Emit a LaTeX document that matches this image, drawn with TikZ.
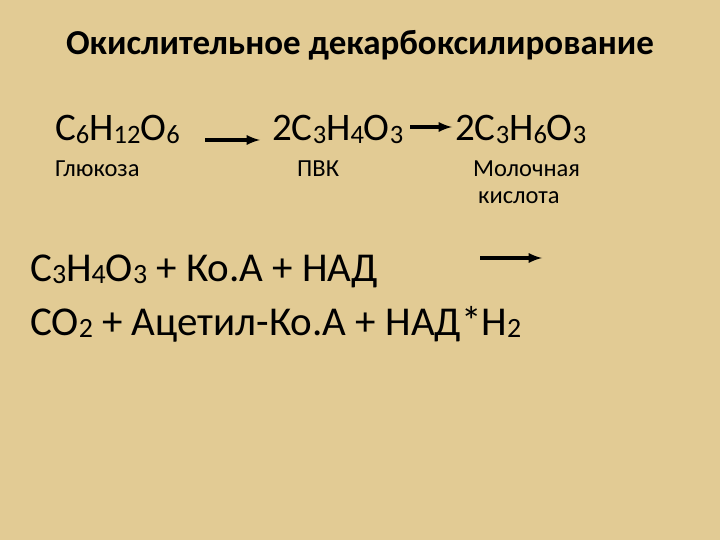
\documentclass[tikz,border=0pt]{standalone}
\usepackage{fontspec}
\setmainfont{Carlito}
\newcommand\subn[1]{\raisebox{-0.12ex}{\scalebox{0.68}{#1}}}
\begin{document}
\begin{tikzpicture}[x=1pt,y=-1pt,
  txt/.style={anchor=base west,inner sep=0pt,text=black},
  big/.style={txt,font=\fontsize{39}{44}\selectfont},
  med/.style={txt,font=\fontsize{24.5}{28}\selectfont},
  arr/.style={-latex,line width=3.5pt}]
\definecolor{bg}{RGB}{226,203,148}
\fill[bg] (0,0) rectangle (720,540);
\useasboundingbox (0,0) rectangle (720,540);
\node[anchor=base,inner sep=0pt,font=\bfseries\fontsize{35}{40}\selectfont] (t) at (360,55) {Окислительное декарбоксилирование};
\node[big] (a) at (55,141) {C\subn{6}H\subn{12}O\subn{6}};
\node[big] (b) at (272,141) {2C\subn{3}H\subn{4}O\subn{3}};
\node[big] (c) at (455,141) {2C\subn{3}H\subn{6}O\subn{3}};
\coordinate (a1) at (205,140); \coordinate (a2) at (260,140);
\draw[arr] (a1) -- (a2);
\coordinate (b1) at (410,127); \coordinate (b2) at (452,127);
\draw[arr] (b1) -- (b2);
\node[med] (g) at (55,177) {Глюкоза};
\node[med] (p) at (297,177) {ПВК};
\node[med] (m) at (473,177) {Молочная};
\node[med] (k) at (478,204) {кислота};
\node[big,font=\fontsize{41}{46}\selectfont] (r1) at (30,281) {C\subn{3}H\subn{4}O\subn{3} + Ко.А  + НАД};
\coordinate (c1) at (480,258); \coordinate (c2) at (542,258);
\draw[arr] (c1) -- (c2);
\node[big,font=\fontsize{41}{46}\selectfont] (r2) at (30,335) {CO\subn{2} + Ацетил-Ко.А + НАД*Н\subn{2}};
\end{tikzpicture}
\end{document}
